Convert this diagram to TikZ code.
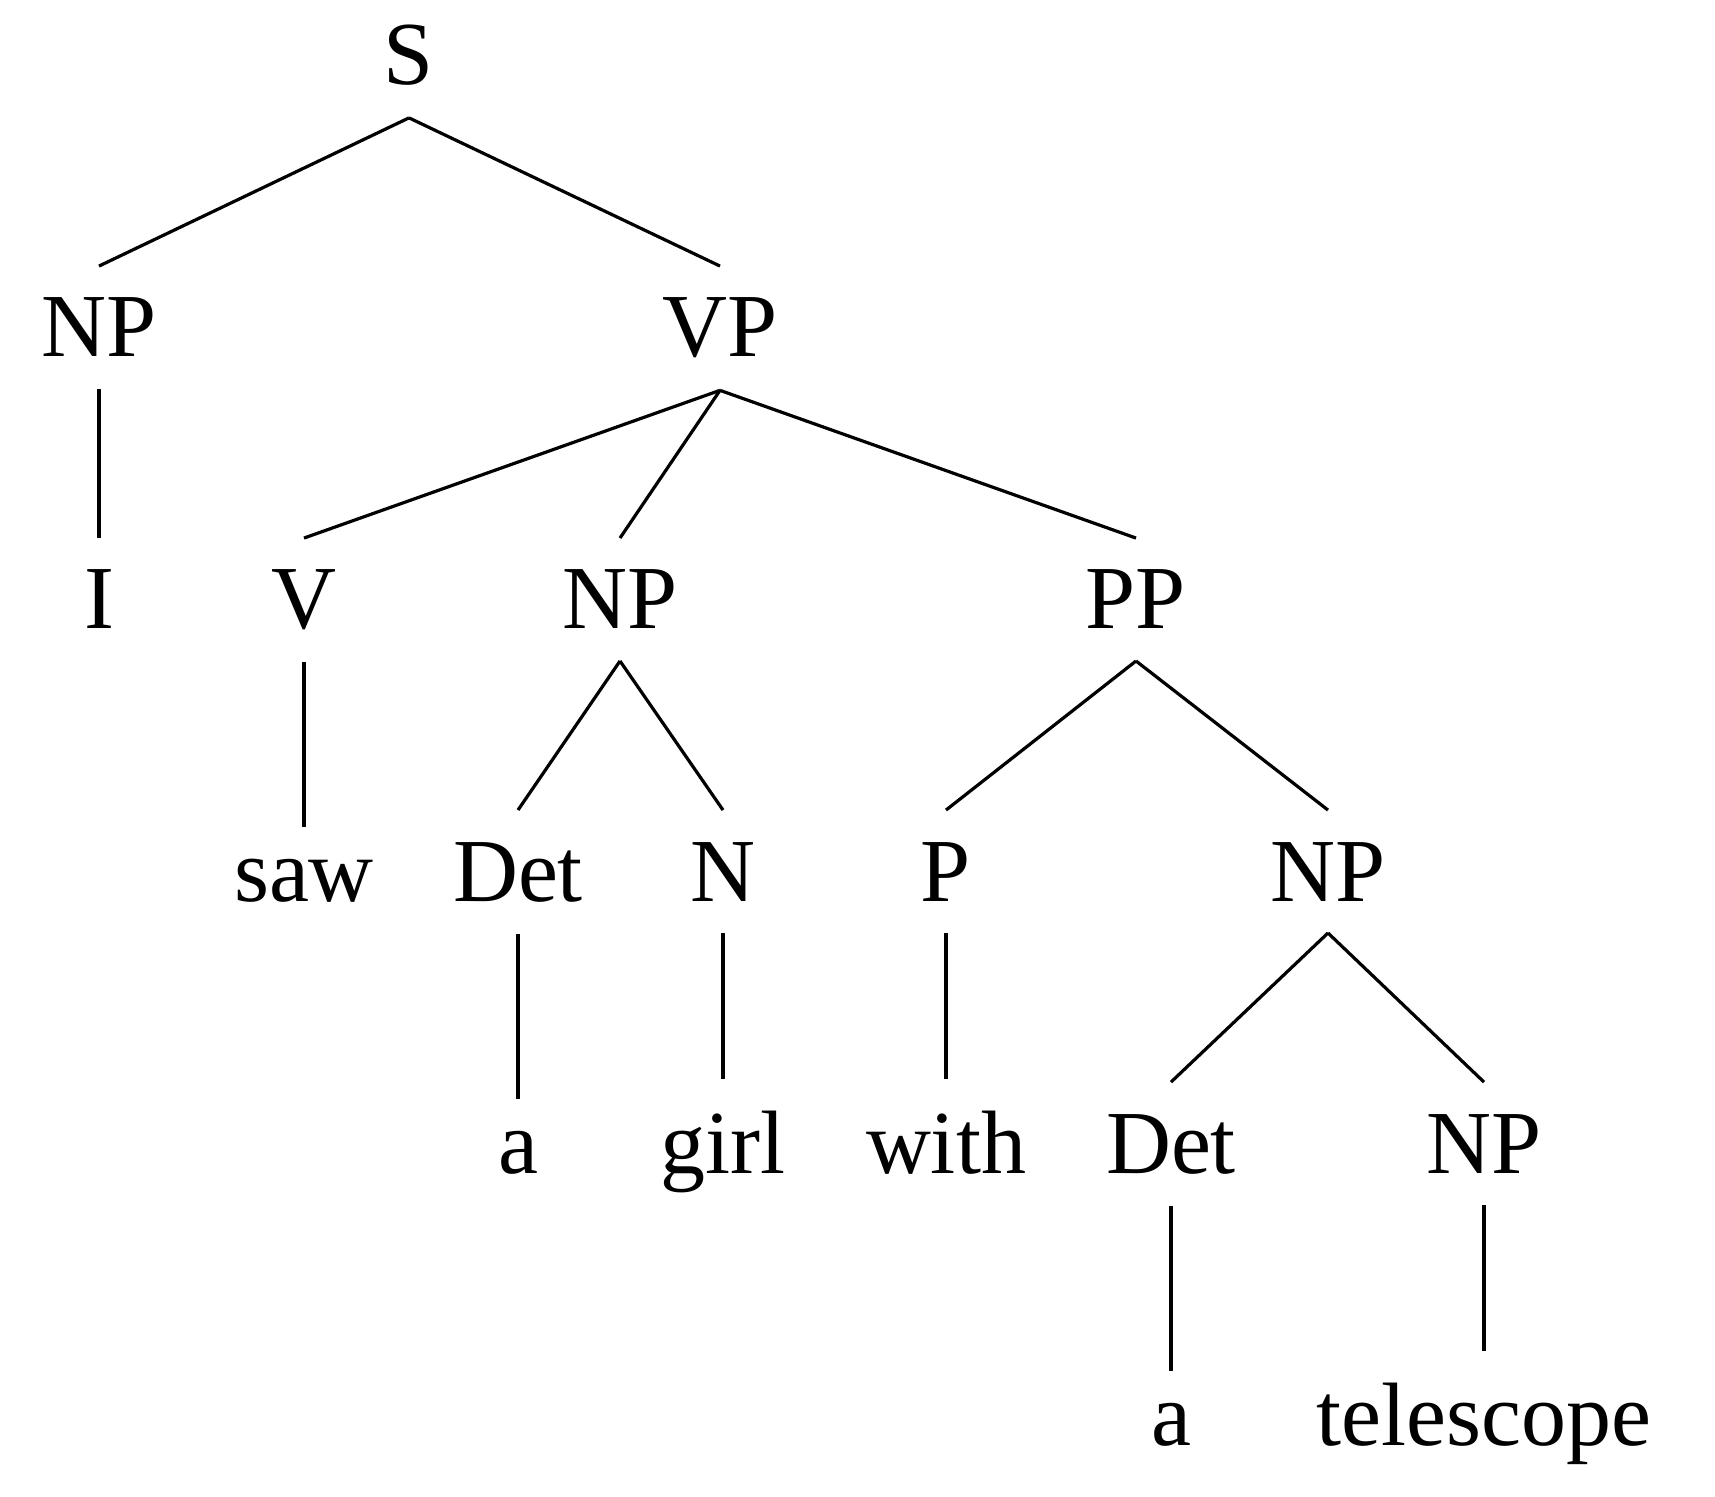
\documentclass[tikz,border=0pt]{standalone}
\usepackage{fontspec}
\setmainfont{Liberation Serif}
\begin{document}
\begin{tikzpicture}[x=0.5pt,y=-0.5pt,
  lab/.style={anchor=base,inner sep=0pt,outer sep=16pt,font=\fontsize{45}{50}\selectfont},
  edge/.style={line width=1.6pt}]
\useasboundingbox (0,0) rectangle (1715,1497);
% row 0
\node[lab] (S) at (409,85) {S};
% row 1
\node[lab] (NPa) at (99,357) {NP};
\node[lab] (VP) at (720,357) {VP};
% row 2
\node[lab] (I) at (99,629) {I};
\node[lab] (V) at (304,629) {V};
\node[lab] (NPb) at (620,629) {NP};
\node[lab] (PP) at (1136,629) {PP};
% row 3
\node[lab] (saw) at (304,901) {saw};
\node[lab] (Deta) at (518,901) {Det};
\node[lab] (N) at (723,901) {N};
\node[lab] (P) at (946,901) {P};
\node[lab] (NPc) at (1328,901) {NP};
% row 4
\node[lab] (aa) at (518,1173) {a};
\node[lab] (girl) at (723,1173) {girl};
\node[lab] (with) at (946,1173) {with};
\node[lab] (Detb) at (1171,1173) {Det};
\node[lab] (NPd) at (1484,1173) {NP};
% row 5
\node[lab] (ab) at (1171,1445) {a};
\node[lab] (tel) at (1484,1445) {telescope};
% edges
\draw[edge] (S.south) -- (NPa.north);
\draw[edge] (S.south) -- (VP.north);
\draw[edge] (NPa.south) -- (I.north);
\draw[edge] (VP.south) -- (V.north);
\draw[edge] (VP.south) -- (NPb.north);
\draw[edge] (VP.south) -- (PP.north);
\draw[edge] (V.south) -- (saw.north);
\draw[edge] (NPb.south) -- (Deta.north);
\draw[edge] (NPb.south) -- (N.north);
\draw[edge] (PP.south) -- (P.north);
\draw[edge] (PP.south) -- (NPc.north);
\draw[edge] (Deta.south) -- (aa.north);
\draw[edge] (N.south) -- (girl.north);
\draw[edge] (P.south) -- (with.north);
\draw[edge] (NPc.south) -- (Detb.north);
\draw[edge] (NPc.south) -- (NPd.north);
\draw[edge] (Detb.south) -- (ab.north);
\draw[edge] (NPd.south) -- (tel.north);
\end{tikzpicture}
\end{document}
